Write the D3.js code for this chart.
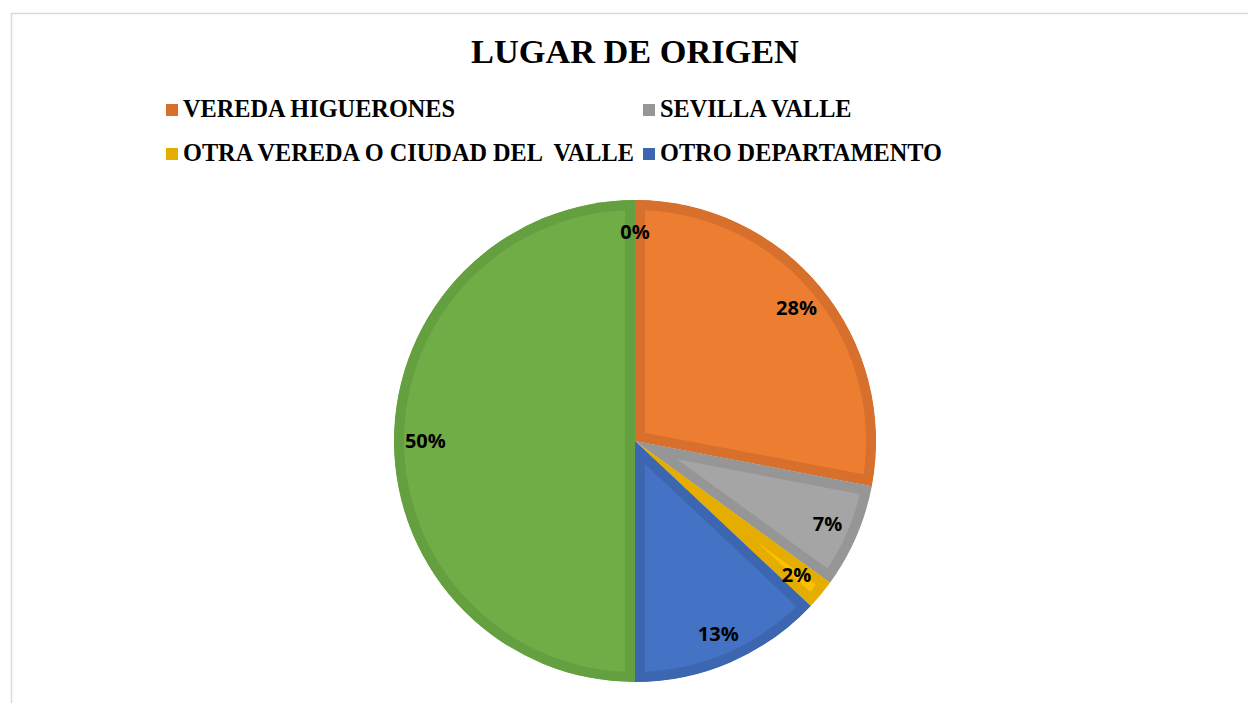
<!DOCTYPE html>
<html>
<head>
<meta charset="utf-8">
<script src="https://cdn.jsdelivr.net/npm/d3@7"></script>
<style>
  body { margin: 0; background: #fff; }
  svg { display: block; }
</style>
</head>
<body>
<div class="canva"></div>
<script>
// datos del grafico
const categories = ["", "VEREDA HIGUERONES", "SEVILLA VALLE", "OTRA VEREDA O CIUDAD DEL  VALLE", "OTRO DEPARTAMENTO", ""];
const values = [0, 28, 7, 2, 13, 50];
const fills = ["#5B9BD5", "#ED7D31", "#A5A5A5", "#FFC000", "#4472C4", "#70AD47"];
const borders = ["#4F8AC0", "#D6702C", "#969696", "#E5AD00", "#3D66B0", "#65A040"];
const legendItems = [1, 2, 3, 4];

const width = 1248, height = 703;
const cx = 635, cy = 441, R = 241;

const svg = d3.select(".canva").append("svg")
    .attr("width", width)
    .attr("height", height);

// marco del grafico
svg.append("rect")
    .attr("x", 11.5)
    .attr("y", 13.5)
    .attr("width", 1260)
    .attr("height", 720)
    .attr("fill", "none")
    .attr("stroke", "#d9d9d9")
    .attr("stroke-width", 1.5);

svg.append("text")
    .attr("x", 635)
    .attr("y", 63)
    .attr("text-anchor", "middle")
    .style("font-family", "'Liberation Serif', 'Times New Roman', serif")
    .style("font-weight", "bold")
    .style("font-size", "34.3px")
    .text("LUGAR DE ORIGEN");

// leyenda
const legendPos = [[166, 117], [643, 117], [166, 161], [643, 161]];
const legend = svg.selectAll("g.leg")
    .data(legendItems)
    .join("g")
    .attr("class", "leg")
    .attr("transform", (d, i) => `translate(${legendPos[i][0]},${legendPos[i][1]})`);

legend.append("rect")
    .attr("x", 0)
    .attr("y", -13)
    .attr("width", 12)
    .attr("height", 12)
    .attr("fill", d => borders[d]);

legend.append("text")
    .attr("x", 17)
    .attr("y", 0)
    .style("font-family", "'Liberation Serif', 'Times New Roman', serif")
    .style("font-weight", "bold")
    .style("font-size", "24.3px")
    .style("white-space", "pre")
    .attr("xml:space", "preserve")
    .text(d => categories[d]);

// pastel
const pie = d3.pie().sort(null).value(d => d)(values);
const arc = d3.arc().innerRadius(0).outerRadius(R);
const labelArc = d3.arc().innerRadius(R * 0.87).outerRadius(R * 0.87);

const g = svg.append("g").attr("transform", `translate(${cx},${cy})`);

const defs = svg.append("defs");
pie.forEach((p, i) => {
    defs.append("clipPath").attr("id", "clip" + i)
        .append("path").attr("d", arc(p));
});

g.selectAll("path.slice")
    .data(pie)
    .join("path")
    .attr("class", "slice")
    .attr("d", arc)
    .attr("fill", (d, i) => fills[i])
    .attr("stroke", (d, i) => borders[i])
    .attr("stroke-width", 20)
    .attr("clip-path", (d, i) => `url(#clip${i})`);

g.selectAll("text.lbl")
    .data(pie)
    .join("text")
    .attr("class", "lbl")
    .attr("transform", d => `translate(${labelArc.centroid(d)})`)
    .attr("text-anchor", "middle")
    .attr("dy", "0.36em")
    .style("font-family", "'Open Sans', 'Liberation Sans', sans-serif")
    .style("font-weight", "bold")
    .style("font-size", "20px")
    .text((d, i) => values[i] + "%");
</script>
</body>
</html>
